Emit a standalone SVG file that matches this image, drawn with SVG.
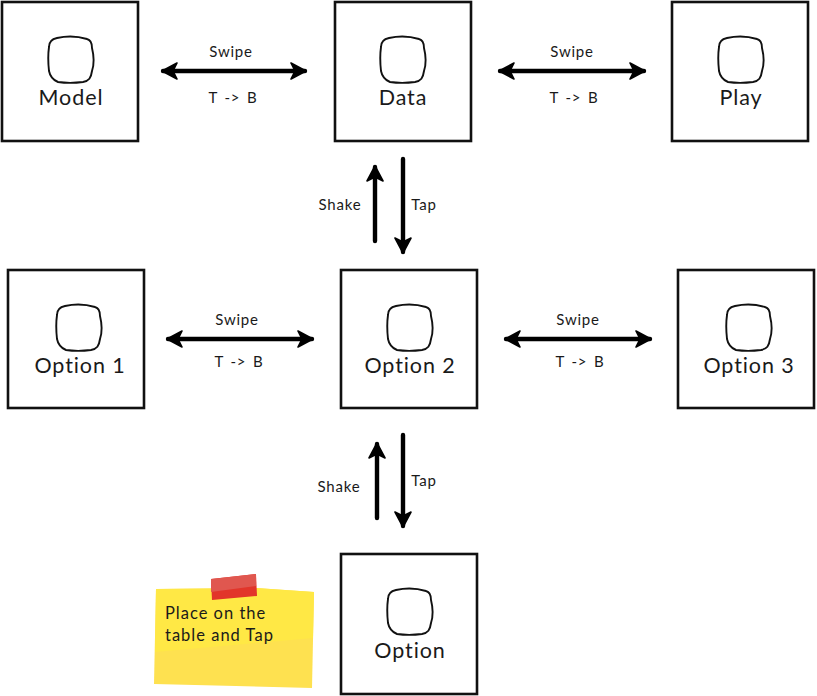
<svg xmlns="http://www.w3.org/2000/svg" width="817" height="696" viewBox="0 0 817 696">
<style>
text{font-family:"Lato","Open Sans","Liberation Sans",sans-serif;fill:#1a1a1a}
.box{fill:#fff;stroke:#111;stroke-width:2.6}
.icon{fill:#fff;stroke:#111;stroke-width:1.9}
.t{font-size:21.5px;text-anchor:middle;letter-spacing:.9px}
.l{font-size:15px;text-anchor:middle;letter-spacing:.8px}
.w{word-spacing:2px}
.c{fill:none;stroke:#000;stroke-width:4.4;stroke-linecap:round}
.n{font-size:16.5px;letter-spacing:1px}
</style>
<defs>
<path id="ic" d="M-14-22C-5-24 6-24 16-21C20-20 21-17 21-12C23-4 23 5 21 11C20 18 18 21 12 22C4 23-6 23-13 22C-18 20-21 16-22 11C-23 2-23-6-22-13C-22-18-19-21-14-22Z"/>
<marker id="a" viewBox="0 0 18 18" refX="15" refY="9" markerWidth="18" markerHeight="18" markerUnits="userSpaceOnUse" orient="auto-start-reverse"><path d="M1 1L16 9L1 17L5 9Z" fill="#000" stroke="#000" stroke-width="1.6" stroke-linejoin="round"/></marker>
</defs>
<g id="connectors">
<path class="c" marker-start="url(#a)" marker-end="url(#a)" d="M163 71H305"/>
<path class="c" marker-start="url(#a)" marker-end="url(#a)" d="M500 71H644"/>
<path class="c" marker-start="url(#a)" marker-end="url(#a)" d="M168 339H312"/>
<path class="c" marker-start="url(#a)" marker-end="url(#a)" d="M506 339H650"/>
<path class="c" marker-end="url(#a)" d="M375 241V167"/>
<path class="c" marker-end="url(#a)" d="M403 159V252"/>
<path class="c" marker-end="url(#a)" d="M377 518V444"/>
<path class="c" marker-end="url(#a)" d="M403 435V526"/>
<text class="l" x="231" y="57">Swipe</text><text class="l w" x="233" y="103">T -&gt; B</text>
<text class="l" x="572" y="57">Swipe</text><text class="l w" x="574" y="103">T -&gt; B</text>
<text class="l" x="237" y="325">Swipe</text><text class="l w" x="239" y="367">T -&gt; B</text>
<text class="l" x="578" y="325">Swipe</text><text class="l w" x="580" y="367">T -&gt; B</text>
<text class="l" x="340" y="210">Shake</text><text class="l" x="424" y="210">Tap</text>
<text class="l" x="339" y="492">Shake</text><text class="l" x="424" y="486">Tap</text>
</g>
<g id="model"><rect class="box" x="2" y="2" width="136" height="139"/><use href="#ic" class="icon" x="71" y="60"/><text class="t" x="71" y="105">Model</text></g>
<g id="data"><rect class="box" x="335" y="2" width="136" height="139"/><use href="#ic" class="icon" x="403" y="60"/><text class="t" x="403" y="105">Data</text></g>
<g id="play"><rect class="box" x="672" y="2" width="136" height="139"/><use href="#ic" class="icon" x="741" y="60"/><text class="t" x="741" y="105">Play</text></g>
<g id="option1"><rect class="box" x="8" y="270" width="136" height="138"/><use href="#ic" class="icon" x="79" y="328"/><text class="t" x="80" y="373">Option 1</text></g>
<g id="option2"><rect class="box" x="341" y="270" width="136" height="138"/><use href="#ic" class="icon" x="410" y="328"/><text class="t" x="410" y="373">Option 2</text></g>
<g id="option3"><rect class="box" x="678" y="270" width="136" height="138"/><use href="#ic" class="icon" x="749" y="328"/><text class="t" x="749" y="373">Option 3</text></g>
<g id="option"><rect class="box" x="341" y="554" width="136" height="140"/><use href="#ic" class="icon" x="410" y="612"/><text class="t" x="410" y="658">Option</text></g>
<g id="note">
<path d="M156 589L256 588L314 592L312 688L154 684Z" fill="#fee150"/>
<path d="M156 589L256 588L314 592L313 638L155 652Z" fill="#ffe845"/>
<path d="M211 579L256 574L257 596L212 600Z" fill="#e2352a"/>
<path d="M211 579L256 574L256 586L211 592Z" fill="#e0574f"/>
<text class="n" x="165" y="619">Place on the</text>
<text class="n" x="165" y="641">table and Tap</text>
</g>
</svg>
